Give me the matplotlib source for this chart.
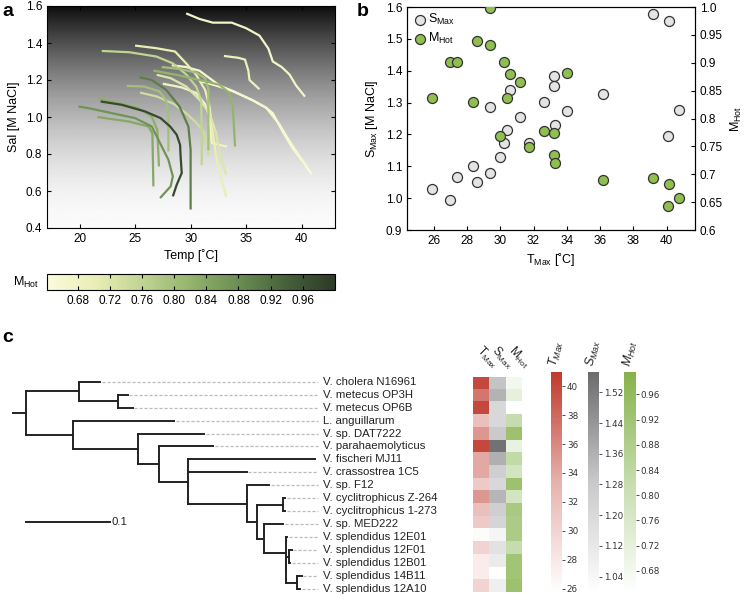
import numpy as np
import matplotlib.pyplot as plt
from matplotlib.colors import LinearSegmentedColormap, Normalize
from matplotlib.cm import ScalarMappable

plt.rcParams['font.family'] = ['Liberation Sans', 'DejaVu Sans']
plt.rcParams['mathtext.default'] = 'regular'

# ---------------- panel a: salinity/temperature boundary curves
curve_temp = [
    [29.6, 30.8, 32.0, 33.7, 35.0, 36.2, 37.0, 37.4, 38.2, 38.9, 39.5, 40.3],
    [33.0, 34.3, 34.9, 35.2, 35.3, 36.2],
    [30.8, 32.3, 33.8, 35.6, 36.8, 37.4, 38.3, 39.2, 40.1, 40.9],
    [28.3, 29.6, 30.8, 31.7, 32.6, 33.8, 35.6, 36.8, 38.0, 38.9, 39.9, 40.5],
    [22.0, 24.5, 26.9, 28.4, 29.6, 30.5, 30.95, 31.0, 31.0],
    [25.0, 26.9, 28.6, 29.6, 30.5, 31.3, 31.7, 32.0, 32.3, 32.6, 33.2],
    [21.9, 23.8, 25.9, 27.3, 28.15, 28.75, 29.05, 29.1, 29.2, 28.75, 28.4],
    [19.9, 20.8, 22.9, 25.0, 26.5, 27.25, 28.0, 28.4, 28.2, 27.25],
    [21.6, 24.4, 26.2, 26.56, 26.65],
    [21.7, 22.9, 25.3, 26.5, 27.0, 27.15],
    [24.25, 25.8, 27.2, 27.8, 28.0, 28.0],
    [25.4, 26.5, 27.8, 29.0, 29.8, 30.0, 30.0],
    [26.65, 28.7, 30.8, 32.6, 33.5, 33.8, 34.0],
    [26.95, 28.2, 29.6, 30.8, 31.7, 32.3, 32.6, 33.2],
    [25.45, 27.0, 28.5, 29.6, 30.5, 31.2, 31.5, 31.6],
    [27.5, 29.2, 30.5, 31.3, 31.7, 31.9, 32.5, 33.3],
    [27.4, 29.0, 30.5, 31.3, 31.6, 31.6],
]
curve_sal = [
    [1.56, 1.53, 1.51, 1.51, 1.48, 1.44, 1.37, 1.30, 1.27, 1.23, 1.17, 1.11],
    [1.33, 1.32, 1.31, 1.25, 1.20, 1.15],
    [1.195, 1.17, 1.14, 1.09, 1.05, 1.02, 0.92, 0.83, 0.76, 0.69],
    [1.28, 1.27, 1.25, 1.21, 1.17, 1.14, 1.09, 1.05, 0.96, 0.87, 0.78, 0.73],
    [1.357, 1.35, 1.327, 1.29, 1.23, 1.165, 1.09, 0.9, 0.74],
    [1.386, 1.372, 1.354, 1.29, 1.228, 1.147, 1.057, 0.913, 0.787, 0.697, 0.57],
    [1.084, 1.066, 1.03, 0.994, 0.949, 0.904, 0.85, 0.787, 0.697, 0.634, 0.571],
    [1.057, 1.048, 1.021, 0.994, 0.949, 0.859, 0.769, 0.679, 0.625, 0.562],
    [1.0, 0.976, 0.949, 0.913, 0.625],
    [1.10, 1.084, 1.048, 1.003, 0.93, 0.733],
    [1.168, 1.165, 1.138, 1.09, 1.0, 0.814],
    [1.215, 1.2, 1.147, 1.057, 0.949, 0.823, 0.5],
    [1.251, 1.228, 1.2, 1.174, 1.13, 1.057, 0.841],
    [1.228, 1.21, 1.165, 1.093, 1.021, 0.913, 0.805, 0.688],
    [1.132, 1.11, 1.07, 1.02, 0.97, 0.92, 0.85, 0.79],
    [1.18, 1.16, 1.13, 1.07, 1.0, 0.86, 0.85, 0.84],
    [1.27, 1.26, 1.24, 1.21, 1.15, 0.82],
]
curve_mhot = [0.67, 0.69, 0.645, 0.66, 0.76, 0.70, 0.975, 0.87, 0.84, 0.83,
              0.80, 0.90, 0.82, 0.72, 0.74, 0.68, 0.80]

# ---------------- panel b: per-strain maxima
t_max = [25.9, 27.0, 27.4, 28.35, 28.6, 29.4, 29.4, 30.0, 30.2, 30.4, 30.6, 31.2,
         31.7, 32.6, 33.25, 33.25, 33.3, 34.0, 36.2, 39.2, 40.1, 40.15, 40.75]
s_max = [1.03, 0.994, 1.066, 1.102, 1.051, 1.287, 1.080, 1.128, 1.172, 1.213, 1.340,
         1.254, 1.172, 1.302, 1.382, 1.353, 1.229, 1.273, 1.327, 1.577, 1.196, 1.555, 1.278]
m_hot = [0.836, 0.902, 0.902, 0.829, 0.939, 0.998, 0.932, 0.768, 0.902, 0.836, 0.879,
         0.866, 0.748, 0.778, 0.774, 0.735, 0.720, 0.882, 0.690, 0.694, 0.643, 0.682, 0.658]

# ---------------- panel c: tree + heatmap
species = ["V. cholera N16961", "V. metecus OP3H", "V. metecus OP6B", "L. anguillarum",
           "V. sp. DAT7222", "V. parahaemolyticus", "V. fischeri MJ11", "V. crassostrea 1C5",
           "V. sp. F12", "V. cyclitrophicus Z-264", "V. cyclitrophicus 1-273", "V. sp. MED222",
           "V. splendidus 12E01", "V. splendidus 12F01", "V. splendidus 12B01",
           "V. splendidus 14B11", "V. splendidus 12A10"]
heat_tmax = [40, 37, 40, 32, 35, 40, 34, 34, 31, 35, 32, 31, 26, 30, 27.5, 27.5, 30]
heat_smax = [1.30, 1.35, 1.20, 1.20, 1.28, 1.55, 1.36, 1.25, 1.20, 1.34, 1.25, 1.22,
             1.05, 1.15, 1.10, 1.00, 1.08]
heat_mhot = [0.68, 0.72, 0.645, 0.82, 0.93, 0.71, 0.83, 0.78, 0.93, 0.78, 0.90, 0.89,
             0.89, 0.82, 0.92, 0.92, 0.93]

# (children, branch length) ; leaves are (name, branch length)
tree = ([
    ([("V. cholera N16961", 0.025),
      ([("V. metecus OP3H", 0.0115), ("V. metecus OP6B", 0.0175)], 0.0464)], 0.0631),
    ([("L. anguillarum", 0.1206),
      ([("V. sp. DAT7222", 0.0782),
        ([("V. parahaemolyticus", 0.0643),
          ([("V. fischeri MJ11", 0.1515),
            ("V. crassostrea 1C5", 0.0702),
            ([("V. sp. F12", 0.0269),
              ([([("V. cyclitrophicus Z-264", 0.002), ("V. cyclitrophicus 1-273", 0.002)], 0.0317),
                ([("V. sp. MED222", 0.0226),
                  ([("V. splendidus 12E01", 0.0019),
                    ([([("V. splendidus 12F01", 0.0026), ("V. splendidus 12B01", 0.0006)], 0.0036),
                      ([("V. splendidus 14B11", 0.005), ("V. splendidus 12A10", 0.003)], 0.0131)],
                     0.001)], 0.0255)], 0.009)], 0.0119)], 0.0702)], 0.0338)], 0.025)], 0.0781)],
     0.0556)], 0.0151)

W, H = 747, 596
fig = plt.figure(figsize=(W / 100, H / 100), dpi=100)


def box(x0, y0, x1, y1):
    # pixel box (top-left origin) -> figure fraction
    return [x0 / W, 1 - y1 / H, (x1 - x0) / W, (y1 - y0) / H]


mhot_cmap = LinearSegmentedColormap.from_list(
    "mhot", ["#fbfbdc", "#e9eeb4", "#bfd392", "#93b46c", "#6a8d52", "#46603a", "#2c3a27"])
mhot_norm = Normalize(0.642, 1.0)

# ---------------- panel a
ax_a = fig.add_axes(box(47, 6, 335, 228))
grad = np.linspace(0, 1, 256).reshape(-1, 1) ** 1.8
ax_a.imshow(grad, cmap="gray_r", vmin=-0.02, vmax=1.06, aspect="auto",
            extent=[17.07, 43.0, 0.4, 1.6], origin="lower", zorder=0)
order = np.argsort(curve_mhot)
for i in order:
    c = mhot_cmap(mhot_norm(curve_mhot[i]))
    ax_a.plot(curve_temp[i], curve_sal[i], color=c, lw=1.6, solid_capstyle="butt", zorder=2)
ax_a.set_xlim(17.07, 43.0)
ax_a.set_ylim(0.4, 1.6)
ax_a.set_xticks([20, 25, 30, 35, 40])
ax_a.set_yticks(np.arange(0.4, 1.61, 0.2))
ax_a.set_yticklabels([f"{v:.1f}" for v in np.arange(0.4, 1.61, 0.2)])
ax_a.tick_params(direction="in", top=True, right=True, labelsize=8.5, length=3)
ax_a.set_xlabel("Temp [˚C]", fontsize=9, labelpad=3)
ax_a.set_ylabel("Sal [M NaCl]", fontsize=9, labelpad=4)

cax_a = fig.add_axes(box(47, 274, 335, 290))
cb = fig.colorbar(ScalarMappable(norm=mhot_norm, cmap=mhot_cmap), cax=cax_a,
                  orientation="horizontal")
cb.set_ticks([0.68, 0.72, 0.76, 0.80, 0.84, 0.88, 0.92, 0.96])
cb.set_ticklabels(["0.68", "0.72", "0.76", "0.80", "0.84", "0.88", "0.92", "0.96"])
cax_a.tick_params(direction="in", length=3, labelsize=8.5, top=True)
fig.text(26 / W, 1 - 282 / H, "$M_{Hot}$", fontsize=9, ha="center", va="center")

# ---------------- panel b
ax_b = fig.add_axes(box(407, 7, 695, 230))
ax_b2 = ax_b.twinx()
ax_b.scatter(t_max, s_max, s=52, facecolor="#e4e4e4", edgecolor="#333333", lw=0.9,
             zorder=3, label="$S_{Max}$")
ax_b2.scatter(t_max, m_hot, s=52, facecolor="#8fbf4f", edgecolor="#333333", lw=0.9,
              zorder=3, label="$M_{Hot}$")
ax_b.set_xlim(24.4, 41.7)
ax_b.set_ylim(0.9, 1.6)
ax_b2.set_ylim(0.6, 1.0)
ax_b.set_xticks(range(26, 41, 2))
ax_b.set_yticks(np.arange(0.9, 1.61, 0.1))
ax_b.set_yticklabels([f"{v:.1f}" for v in np.arange(0.9, 1.61, 0.1)])
ax_b2.set_yticks(np.arange(0.6, 1.001, 0.05))
ax_b2.set_yticklabels(["0.6", "0.65", "0.7", "0.75", "0.8", "0.85", "0.9", "0.95", "1.0"])
ax_b.tick_params(direction="in", labelsize=8.5, length=3)
ax_b2.tick_params(direction="in", labelsize=8.5, length=3)
ax_b.set_xlabel("$T_{Max}$ [˚C]", fontsize=9, labelpad=3)
ax_b.set_ylabel("$S_{Max}$ [M NaCl]", fontsize=9, labelpad=4)
ax_b2.set_ylabel("$M_{Hot}$", fontsize=9, labelpad=4)
h1, l1 = ax_b.get_legend_handles_labels()
h2, l2 = ax_b2.get_legend_handles_labels()
ax_b2.legend(h1 + h2, l1 + l2, loc="upper left", frameon=False, fontsize=9,
             handletextpad=0.1, borderaxespad=0.2, labelspacing=0.3,
             borderpad=0.2, handlelength=1.2)

# ---------------- panel c: tree
ax_t = fig.add_axes(box(0, 375.2, 460, 595.5))
ax_t.set_xlim(-13.3 / 840, (460 - 13.3) / 840)
ax_t.set_ylim(16.5, -0.5)
ax_t.axis("off")
leaf_counter = [0]
tips = {}


def draw(node, x0):
    children, bl = node
    x1 = x0 + bl
    if isinstance(children, str):
        y = leaf_counter[0]
        leaf_counter[0] += 1
        tips[children] = (x1, y)
    else:
        ys = [draw(ch, x1) for ch in children]
        y = (ys[0] + ys[-1]) / 2
        ax_t.plot([x1, x1], [ys[0], ys[-1]], color="#222222", lw=1.4, solid_capstyle="projecting")
    ax_t.plot([x0, x1], [y, y], color="#222222", lw=1.4, solid_capstyle="projecting")
    return y


draw(tree, 0.0)
label_x = 0.363
for name, (x, y) in tips.items():
    if x < label_x - 0.004:
        ax_t.plot([x + 0.002, label_x], [y, y], color="#bbbbbb", lw=0.9, ls=(0, (2.5, 1.5)))
    ax_t.text(label_x + 0.006, y, name, fontsize=8.2, va="center", ha="left", color="#222222")
ax_t.plot([0.0151, 0.1151], [10.8, 10.8], color="#222222", lw=1.4)
ax_t.text(0.1175, 10.8, "0.1", fontsize=8.2, va="center", ha="left", color="#222222")

# ---------------- panel c: heatmap
t_cmap = LinearSegmentedColormap.from_list("tmax", ["#ffffff", "#e6b2ae", "#c0392b"])
s_cmap = LinearSegmentedColormap.from_list("smax", ["#ffffff", "#c9c9cb", "#6b6b6d"])
m_cmap = LinearSegmentedColormap.from_list("mhot2", ["#ffffff", "#c6dcae", "#86b24a"])
t_norm = Normalize(25.7, 41.0)
s_norm = Normalize(0.997, 1.574)
m_norm = Normalize(0.645, 0.996)

ax_h = fig.add_axes(box(473.3, 376.7, 521.7, 591.7))
rgb = np.stack([t_cmap(t_norm(np.array(heat_tmax))),
                s_cmap(s_norm(np.array(heat_smax))),
                m_cmap(m_norm(np.array(heat_mhot)))], axis=1)
ax_h.imshow(rgb, aspect="auto", interpolation="nearest")
ax_h.axis("off")
for j, lab in enumerate(["$T_{Max}$", "$S_{Max}$", "$M_{Hot}$"]):
    ax_h.text(j + 0.55, -0.9, lab, rotation=-45, rotation_mode="anchor", ha="right",
              va="bottom", fontsize=8.5, color="#222222")

# ---------------- panel c: colorbars
for (x0, x1), cmap, norm, ticks, fmt, lab in [
        ((550.7, 562), t_cmap, t_norm, range(26, 41, 2), "{:d}", "$T_{Max}$"),
        ((587.7, 599), s_cmap, s_norm, [1.04, 1.12, 1.20, 1.28, 1.36, 1.44, 1.52], "{:.2f}", "$S_{Max}$"),
        ((624.3, 636), m_cmap, m_norm, [0.68, 0.72, 0.76, 0.80, 0.84, 0.88, 0.92, 0.96], "{:.2f}", "$M_{Hot}$")]:
    cax = fig.add_axes(box(x0, 371.7, x1, 593))
    cbc = fig.colorbar(ScalarMappable(norm=norm, cmap=cmap), cax=cax)
    cbc.outline.set_visible(False)
    cbc.set_ticks(list(ticks))
    cbc.set_ticklabels([fmt.format(t) for t in ticks])
    cax.tick_params(length=2, width=0.6, labelsize=6.3, pad=1.5, colors="#333333")
    for tl in cax.get_yticklabels():
        tl.set_fontfamily("DejaVu Sans")
    fig.text((x0 + x1) / 2 / W, 1 - 368 / H, lab, rotation=78, ha="center", va="bottom",
             fontsize=9, style="italic", color="#222222")

# panel letters
for x, y, s in [(2, 12, "a"), (357, 12, "b"), (2, 337, "c")]:
    fig.text(x / W, 1 - y / H, s, fontsize=14, fontweight="bold", va="center", ha="left")

fig.savefig("out.png", dpi=100)
